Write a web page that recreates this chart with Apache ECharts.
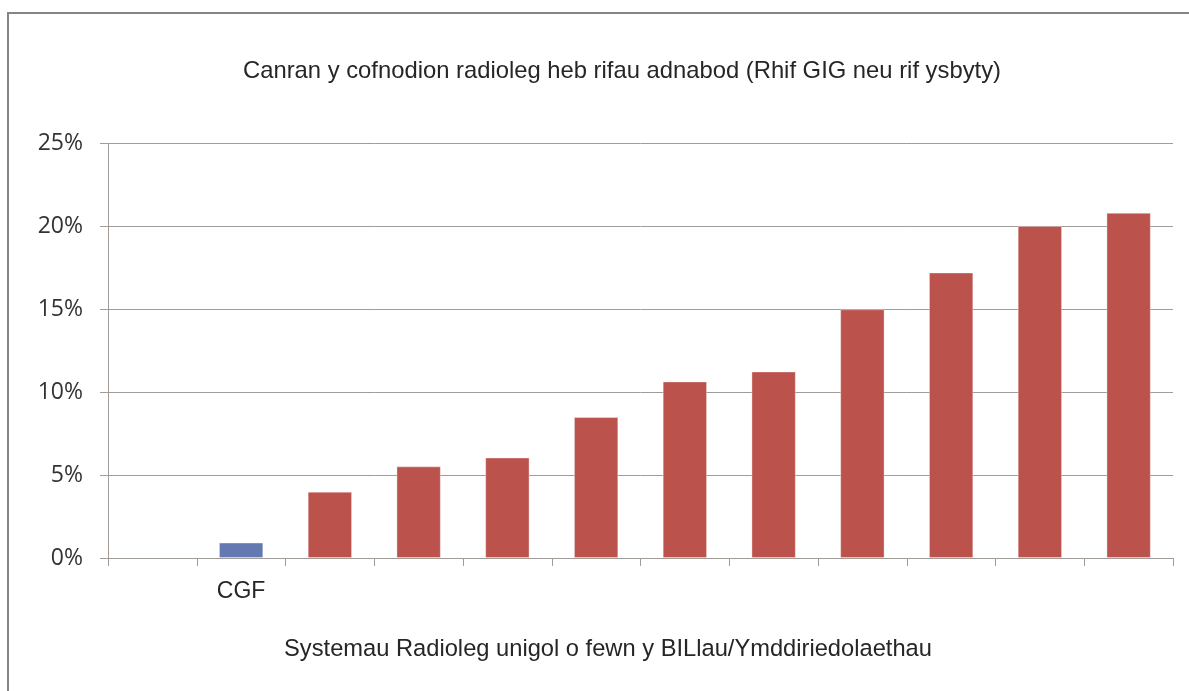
<!DOCTYPE html>
<html>
<head>
<meta charset="utf-8">
<script src="https://cdn.jsdelivr.net/npm/echarts@6/dist/echarts.min.js"></script>
<style>
html,body{margin:0;padding:0;background:#fff;}
#chart{width:1189px;height:691px;}
</style>
</head>
<body>
<div id="chart"></div>
<script>
const chartTitle = 'Canran y cofnodion radioleg heb rifau adnabod (Rhif GIG neu rif ysbyty)';
const xAxisTitle = 'Systemau Radioleg unigol o fewn y BILlau/Ymddiriedolaethau';
const categories = ['', 'CGF', '', '', '', '', '', '', '', '', '', ''];
const values = [null, 0.93, 4.0, 5.53, 6.06, 8.5, 10.65, 11.25, 15.0, 17.22, 20.03, 20.82];
const yTicks = [0, 5, 10, 15, 20, 25];

const chart = echarts.init(document.getElementById('chart'), null, {renderer: 'canvas'});
const axisGray = '#a29c98';
const textColor = '#262626';
chart.setOption({
  animation: false,
  backgroundColor: '#ffffff',
  graphic: [{
    type: 'rect',
    shape: {x: 8, y: 13, width: 1300, height: 800},
    style: {fill: 'none', stroke: '#8a8480', lineWidth: 2},
    silent: true, z: -1
  }],
  title: [{
    text: chartTitle,
    left: 617, top: 54, textAlign: 'center',
    textStyle: {fontFamily: 'Liberation Sans, Arial, sans-serif', fontSize: 23.8, fontWeight: 'normal', color: textColor}
  }, {
    text: xAxisTitle,
    left: 603, top: 632, textAlign: 'center',
    textStyle: {fontFamily: 'Liberation Sans, Arial, sans-serif', fontSize: 23.7, fontWeight: 'normal', color: textColor}
  }],
  grid: {left: 108, right: 16, top: 143.5, bottom: 133, containLabel: false},
  xAxis: {
    type: 'category',
    data: categories,
    boundaryGap: true,
    axisLine: {lineStyle: {color: axisGray, width: 1}},
    axisTick: {show: true, length: 8, alignWithLabel: false, interval: 0, lineStyle: {color: axisGray}},
    axisLabel: {interval: 0, margin: 22, fontFamily: 'Liberation Sans, Arial, sans-serif', fontSize: 23, color: textColor},
    splitLine: {show: false}
  },
  yAxis: {
    type: 'value',
    min: yTicks[0], max: yTicks[yTicks.length - 1], interval: yTicks[1] - yTicks[0],
    axisLine: {show: true, lineStyle: {color: axisGray, width: 1}},
    axisTick: {show: true, length: 8, lineStyle: {color: axisGray}},
    axisLabel: {formatter: '{value}%', margin: 25, fontFamily: 'Open Sans, sans-serif', fontSize: 23, color: '#333333'},
    splitLine: {show: true, lineStyle: {color: axisGray, width: 1}}
  },
  series: [{
    type: 'bar',
    data: values,
    barWidth: '50%',
    itemStyle: {
      color: function (p) { return p.name === 'CGF' ? '#6479b1' : '#bc524c'; },
      borderColor: 'rgba(255,255,255,0.35)', borderWidth: 1
    }
  }]
});
</script>
</body>
</html>
